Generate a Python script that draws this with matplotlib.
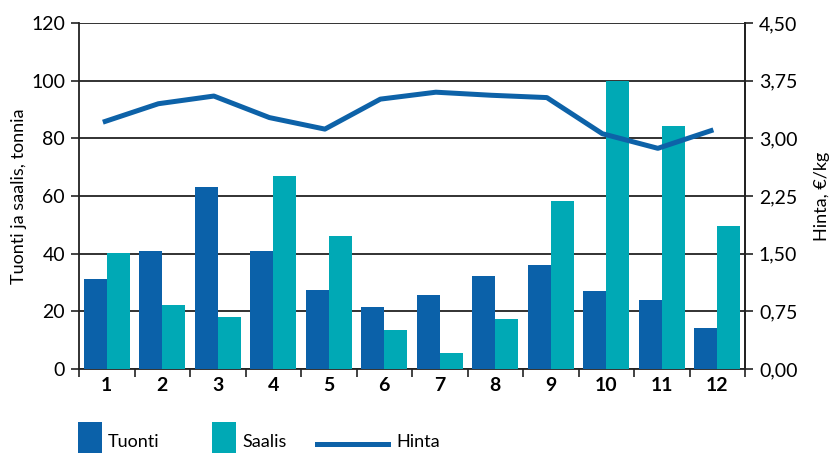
import matplotlib
matplotlib.use("Agg")
import matplotlib.pyplot as plt
import numpy as np
from matplotlib.patches import Rectangle
from matplotlib.lines import Line2D

months = ["1", "2", "3", "4", "5", "6", "7", "8", "9", "10", "11", "12"]
tuonti = [31.2, 40.9, 63.1, 40.9, 27.4, 21.5, 25.7, 32.3, 36.1, 27.1, 23.9, 14.2]
saalis = [40.1, 22.2, 18.0, 66.9, 46.1, 13.5, 5.5, 17.3, 58.3, 100.0, 84.3, 49.6]
hinta = [3.21, 3.45, 3.55, 3.27, 3.12, 3.51, 3.60, 3.56, 3.53, 3.06, 2.87, 3.11]
left_ticks = [0, 20, 40, 60, 80, 100, 120]
right_ticks = [0.0, 0.75, 1.50, 2.25, 3.00, 3.75, 4.50]
right_labels = ["0,00", "0,75", "1,50", "2,25", "3,00", "3,75", "4,50"]

c_tuonti = "#0b61a9"
c_saalis = "#00a9b5"
c_line = "#0d62a8"

plt.rcParams['font.family'] = ['Lato', 'DejaVu Sans']

fig = plt.figure(figsize=(8.31, 4.53), dpi=100)
ax = fig.add_axes([79/831, 1-369/453, (745-79)/831, (369-23)/453])

x = np.arange(len(months))
w = 0.415
ax.bar(x - w/2, tuonti, width=w, color=c_tuonti, zorder=3)
ax.bar(x + w/2, saalis, width=w, color=c_saalis, zorder=3)

ax.set_xlim(-0.5, len(months) - 0.5)
ax.set_ylim(0, 120)
ax.set_yticks(left_ticks)
ax.set_yticklabels([str(t) for t in left_ticks], fontsize=14)
ax.yaxis.grid(True, color="#222222", linewidth=1.3, zorder=0)
ax.set_axisbelow(True)
ax.set_xticks(x)
ax.set_xticklabels(months, fontsize=14, fontweight="bold")
ax.set_xticks(np.arange(len(months) + 1) - 0.5, minor=True)
ax.tick_params(axis="x", which="major", length=0, pad=6)
ax.tick_params(axis="x", which="minor", length=6, width=1.2, color="#222222")
ax.tick_params(axis="y", length=6, width=1.2, color="#222222", pad=4)
for s in ["top"]:
    ax.spines[s].set_visible(False)
for s in ["left", "right", "bottom"]:
    ax.spines[s].set_linewidth(1.3)
    ax.spines[s].set_color("#222222")
ax.set_ylabel("Tuonti ja saalis, tonnia", fontsize=13, labelpad=3)

ax2 = ax.twinx()
ax2.plot(x - 0.07, hinta, color=c_line, linewidth=3.6, zorder=4, solid_capstyle="butt")
ax2.set_ylim(0, 4.5)
ax2.set_yticks(right_ticks)
ax2.set_yticklabels(right_labels, fontsize=14)
ax2.tick_params(axis="y", length=6, width=1.2, color="#222222", pad=4)
for s in ["top", "left", "bottom"]:
    ax2.spines[s].set_visible(False)
ax2.spines["right"].set_linewidth(1.3)
ax2.spines["right"].set_color("#222222")
ax2.set_ylabel("Hinta, €/kg", fontsize=13, labelpad=12)

# legend
fig.add_artist(Rectangle((78/831, -0.02), 24/831, 31/453 + 0.02, transform=fig.transFigure,
                         facecolor=c_tuonti, edgecolor="none"))
fig.text(108/831, 1-442/453, "Tuonti", fontsize=13, va="center", ha="left")
fig.add_artist(Rectangle((212/831, -0.02), 24/831, 31/453 + 0.02, transform=fig.transFigure,
                         facecolor=c_saalis, edgecolor="none"))
fig.text(242/831, 1-442/453, "Saalis", fontsize=13, va="center", ha="left")
fig.add_artist(Line2D([317/831, 388/831], [1-444/453, 1-444/453], transform=fig.transFigure,
                      color=c_line, linewidth=3.6))
fig.text(396/831, 1-442/453, "Hinta", fontsize=13, va="center", ha="left")

fig.savefig("out.png", dpi=100)
